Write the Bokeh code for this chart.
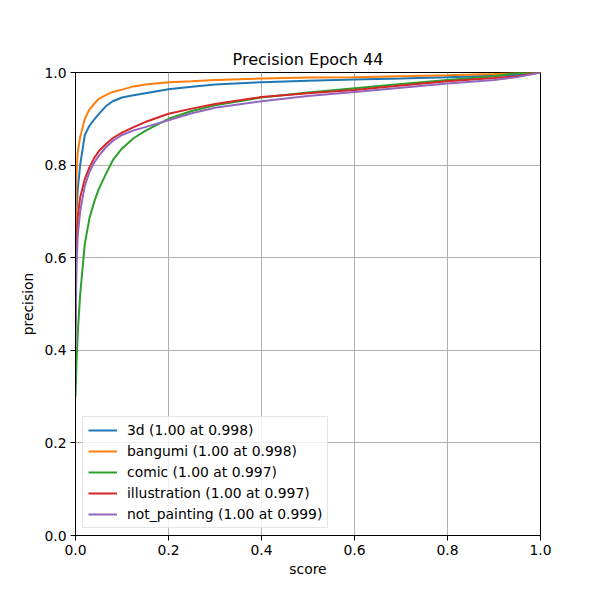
from bokeh.plotting import figure
from bokeh.models import Range1d, FixedTicker, PrintfTickFormatter, Legend, LegendItem
from bokeh.embed import file_html
from bokeh.resources import INLINE

score = [0.0, 0.002, 0.005, 0.01, 0.02, 0.03, 0.04, 0.05, 0.065, 0.08, 0.1, 0.125,
         0.15, 0.2, 0.25, 0.3, 0.4, 0.5, 0.6, 0.7, 0.8, 0.9, 0.95, 1.0]

prec_3d = [0.55, 0.70, 0.75, 0.80, 0.865, 0.885, 0.898, 0.91, 0.927, 0.938, 0.946, 0.951,
           0.955, 0.964, 0.969, 0.974, 0.979, 0.982, 0.985, 0.987, 0.990, 0.993, 0.995, 1.0]
prec_bangumi = [0.60, 0.78, 0.83, 0.86, 0.90, 0.92, 0.932, 0.943, 0.951, 0.958, 0.963, 0.970,
                0.974, 0.979, 0.981, 0.984, 0.987, 0.989, 0.990, 0.992, 0.994, 0.997, 0.999, 1.0]
prec_comic = [0.30, 0.37, 0.44, 0.52, 0.63, 0.685, 0.72, 0.748, 0.78, 0.81, 0.836, 0.858,
              0.874, 0.900, 0.917, 0.929, 0.946, 0.957, 0.966, 0.975, 0.984, 0.992, 0.999, 1.0]
prec_illustration = [0.45, 0.62, 0.69, 0.73, 0.77, 0.795, 0.815, 0.83, 0.845, 0.858, 0.870, 0.882,
                     0.893, 0.911, 0.922, 0.932, 0.947, 0.955, 0.962, 0.972, 0.981, 0.988, 0.992, 1.0]
prec_not_painting = [0.40, 0.58, 0.65, 0.70, 0.755, 0.785, 0.805, 0.82, 0.838, 0.852, 0.865, 0.875,
                     0.882, 0.897, 0.912, 0.924, 0.938, 0.949, 0.958, 0.967, 0.976, 0.984, 0.990, 1.0]

labels = ["3d (1.00 at 0.998)", "bangumi (1.00 at 0.998)", "comic (1.00 at 0.997)",
          "illustration (1.00 at 0.997)", "not_painting (1.00 at 0.999)"]
colors = ["#1f77b4", "#ff7f0e", "#2ca02c", "#d62728", "#9467bd"]
series = [prec_3d, prec_bangumi, prec_comic, prec_illustration, prec_not_painting]
ticks = [0.0, 0.2, 0.4, 0.6, 0.8, 1.0]

FONT = "DejaVu Sans"

p = figure(width=600, height=600, output_backend="svg", toolbar_location=None,
           x_range=Range1d(0, 1), y_range=Range1d(0, 1),
           min_border_left=75, min_border_right=60, min_border_top=72, min_border_bottom=65,
           title="Precision Epoch 44")
p.title.align = "center"
p.title.text_font = FONT
p.title.text_font_size = "16px"
p.title.text_font_style = "normal"
p.title.text_color = "black"
p.title.standoff = 7

p.outline_line_color = "black"
p.outline_line_width = 1
p.outline_line_alpha = 1

for ax in (p.xaxis, p.yaxis):
    ax.ticker = FixedTicker(ticks=ticks)
    ax.formatter = PrintfTickFormatter(format="%.1f")
    ax.major_label_text_font = FONT
    ax.major_label_text_font_size = "13.9px"
    ax.major_label_text_color = "black"
    ax.axis_label_text_font = FONT
    ax.axis_label_text_font_size = "13.9px"
    ax.axis_label_text_font_style = "normal"
    ax.axis_label_text_color = "black"
    ax.minor_tick_line_color = None
    ax.major_tick_out = 5
    ax.major_tick_in = 0
    ax.major_tick_line_color = "black"
    ax.axis_line_color = "black"

p.xaxis.axis_label = "score"
p.yaxis.axis_label = "precision"
p.xaxis.axis_label_standoff = 3
p.yaxis.axis_label_standoff = 5
p.yaxis.major_label_standoff = 4
p.xaxis.major_label_standoff = 4

p.grid.ticker = FixedTicker(ticks=ticks)
p.grid.grid_line_color = "#b0b0b0"
p.grid.grid_line_width = 1

items = []
for lab, col, ys in zip(labels, colors, series):
    r = p.line(score, ys, line_color=col, line_width=2)
    items.append(LegendItem(label=lab, renderers=[r]))

legend = Legend(items=items, location="bottom_left")
legend.label_text_font = FONT
legend.label_text_font_size = "13.9px"
legend.label_text_color = "black"
legend.glyph_width = 29
legend.glyph_height = 16
legend.label_height = 16
legend.label_standoff = 10
legend.spacing = 5
legend.padding = 5
legend.margin = 7
legend.border_line_color = "#cccccc"
legend.border_line_width = 1
legend.background_fill_alpha = 0.8
p.add_layout(legend)

open("out.html", "w").write(file_html(p, INLINE))
